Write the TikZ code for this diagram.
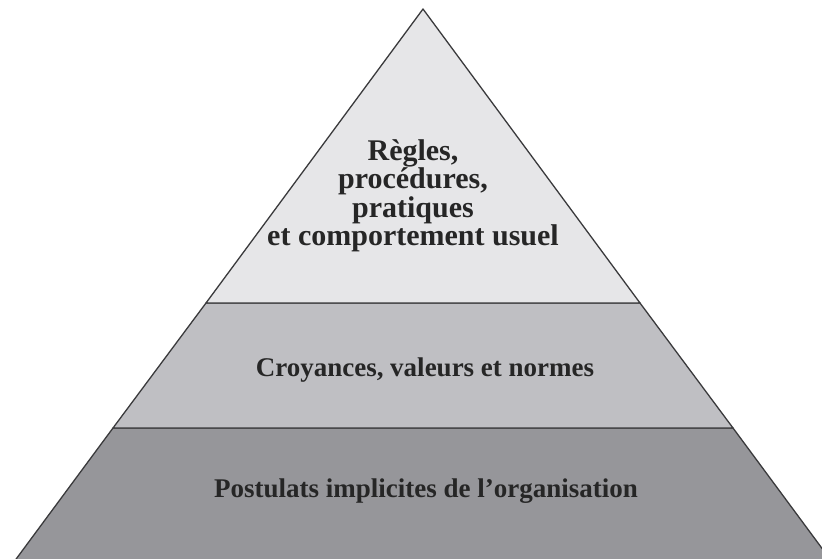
\documentclass[tikz,border=0pt]{standalone}
\usepackage{fontspec}
\setmainfont{Liberation Serif}
\usepackage{tikz}
\usetikzlibrary{positioning,calc}
\usepackage{xcolor}
\definecolor{edge}{HTML}{3A3A3C}
\definecolor{levelone}{HTML}{E6E6E8}
\definecolor{leveltwo}{HTML}{BFBFC3}
\definecolor{levelthree}{HTML}{96969A}

\tikzset{
  band/.style={draw=edge, line width=1.3pt, line join=round},
  label/.style={font=\bfseries\fontsize{27}{28.5}\selectfont, text=black!85, align=center}
}

\begin{document}
\begin{tikzpicture}[x=1pt, y=-1pt]
  \useasboundingbox (0,0) rectangle (822,558);
  \clip (0,0) rectangle (822,558);
  % three layers, from the base up
  \draw[band, fill=levelthree] (113,428) -- (733,428) -- (838,570) -- (8,570) -- cycle;
  \draw[band, fill=leveltwo] (206,303) -- (640,303) -- (733,428) -- (113,428) -- cycle;
  \draw[band, fill=levelone] (423,9) -- (640,303) -- (206,303) -- cycle;
  \node[label, font=\bfseries\fontsize{30}{28.5}\selectfont] (regles) at (413,196) {Règles,\\procédures,\\pratiques\\et comportement usuel};
  \node[label] (croyances) at (425,370) {Croyances, valeurs et normes};
  \node[label] (postulats) at (426,491) {Postulats implicites de l’organisation};
\end{tikzpicture}
\end{document}
